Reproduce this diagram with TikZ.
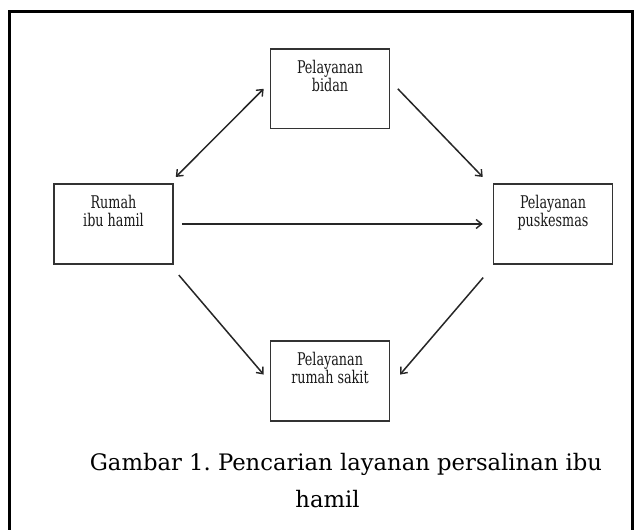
\documentclass[tikz,border=0pt]{standalone}
\usepackage{fontspec}
\setmainfont{DejaVu Serif}
\newfontfamily\boxfont[FakeStretch=0.81]{DejaVu Serif Condensed}
\usetikzlibrary{arrows.meta}
\frenchspacing
\tikzset{
  box/.style={draw=black!80, line width=1.6pt, minimum width=119pt, minimum height=79.5pt, inner sep=0pt},
  boxtxt/.style={align=center, font=\boxfont\fontsize{17.5}{18.3}\selectfont, text=black!90, anchor=base},
  tip/.tip={Straight Barb[length=5.5pt,width=9pt,line width=1.4pt]},
  arr/.style={draw=black!85, line width=1.5pt, -tip},
  arrboth/.style={draw=black!85, line width=1.5pt, tip-tip},
  caption/.style={font=\fontsize{22.7}{27}\selectfont, anchor=base}
}
\begin{document}
\begin{tikzpicture}[x=1pt, y=-1pt]
    \useasboundingbox (0,0) rectangle (638,530);
    \draw[line width=3pt] (9,540) -- (9,11) -- (632.5,11) -- (632.5,540);

    \node[box] (bidan)     at (330,88.8)  {};
    \node[box] (rumah)     at (113.5,224) {};
    \node[box] (puskesmas) at (553,224)   {};
    \node[box] (rs)        at (330,381)   {};

    \node[boxtxt] (bidan-t)     at ([yshift=-43.5pt]bidan.north)     {Pelayanan\\bidan};
    \node[boxtxt] (rumah-t)     at ([yshift=-43.5pt]rumah.north)     {Rumah\\ibu hamil};
    \node[boxtxt] (puskesmas-t) at ([yshift=-43.5pt]puskesmas.north) {Pelayanan\\puskesmas};
    \node[boxtxt] (rs-t)        at ([yshift=-43.5pt]rs.north)        {Pelayanan\\rumah sakit};

    \draw[arrboth] ([xshift=2pt, yshift=6.5pt]rumah.north east) -- ([xshift=-6pt]bidan.west);
    \draw[arr] ([xshift=7.5pt]bidan.east) -- ([xshift=-10pt, yshift=6.5pt]puskesmas.north west);
    \draw[arr] ([xshift=8pt]rumah.east) -- ([xshift=-10pt]puskesmas.west);
    \draw[arr] ([xshift=5pt, yshift=-10.5pt]rumah.south east) -- ([xshift=-6pt, yshift=6.4pt]rs.west);
    \draw[arr] ([xshift=-9.5pt, yshift=-13pt]puskesmas.south west) -- ([xshift=9.7pt, yshift=6.4pt]rs.east);

    \node[caption] (cap1) at (346,470)   {Gambar 1. Pencarian layanan persalinan ibu};
    \node[caption] (cap2) at (327.5,507) {hamil};
\end{tikzpicture}
\end{document}
